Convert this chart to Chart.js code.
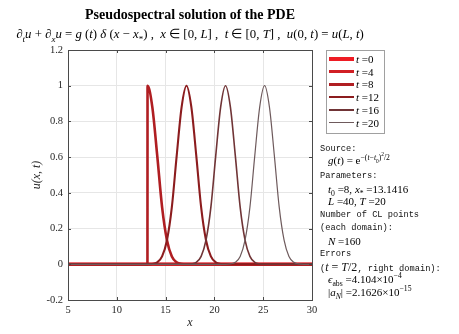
<!DOCTYPE html>
<html>
<head>
<meta charset="utf-8">
<script src="https://cdn.jsdelivr.net/npm/chart.js@4/dist/chart.umd.min.js"></script>
<style>
  body { margin: 0; background: #fff; }
  #wrap { position: relative; width: 459px; height: 334px; overflow: hidden; font-family: "Liberation Serif", serif; color: #000; }
  #chart { position: absolute; left: 0; top: 0; }
  .t { position: absolute; white-space: nowrap; line-height: 12px; }
  .c { left: 0; width: 380px; text-align: center; }
  .m { font-family: "Liberation Mono", monospace; font-size: 8.7px; color: #111; }
  .s { font-size: 11px; font-family: "Liberation Serif", serif; }
  sub, sup { font-size: 70%; line-height: 0; }
  #legend { position: absolute; left: 326px; top: 50px; width: 57px; height: 82px; border: 1px solid #a0a0a0; background: #fff; }
  .row { position: absolute; left: 2px; height: 12px; }
  .row .ln { position: absolute; left: 0; width: 25px; }
  .row .lb { position: absolute; left: 27px; top: 0; line-height: 12px; font-size: 11px; white-space: nowrap; }
</style>
</head>
<body>
<div id="wrap">
  <canvas id="chart" width="459" height="334"></canvas>

  <div class="t c" style="top:9px;font-size:14px;font-weight:bold;">Pseudospectral solution of the PDE</div>
  <div class="t c" style="top:28px;font-size:12.8px;">∂<sub><i>t</i></sub><i>u</i> + ∂<sub><i>x</i></sub><i>u</i> = <i>g</i> (<i>t</i>) <i>δ</i> (<i>x</i> − <i>x</i><sub>*</sub>) , &nbsp;<i>x</i> ∈ [0, <i>L</i>] , &nbsp;<i>t</i> ∈ [0, <i>T</i>] , &nbsp;<i>u</i>(0, <i>t</i>) = <i>u</i>(<i>L</i>, <i>t</i>)</div>

  <div id="legend"></div>

  <div class="t m" style="left:320px;top:143px;">Source:</div>
  <div class="t s" style="left:328px;top:154px;"><i>g</i>(<i>t</i>) = e<sup>−(<i>t</i>−<i>t</i><sub>0</sub>)<sup>2</sup>/2</sup></div>
  <div class="t m" style="left:320px;top:170px;">Parameters:</div>
  <div class="t s" style="left:328px;top:183px;"><i>t</i><sub>0</sub> =8, <i>x</i><sub>*</sub> =13.1416</div>
  <div class="t s" style="left:328px;top:195px;"><i>L</i> =40, <i>T</i> =20</div>
  <div class="t m" style="left:320px;top:209px;">Number of CL points</div>
  <div class="t m" style="left:320px;top:222px;">(each domain):</div>
  <div class="t s" style="left:328px;top:235px;"><i>N</i> =160</div>
  <div class="t m" style="left:320px;top:248px;">Errors</div>
  <div class="t m" style="left:320px;top:261px;">(<span class="s" style="font-size:12px;"><i>t</i> = <i>T</i>/2</span>, right domain):</div>
  <div class="t s" style="left:328px;top:273px;"><i>ϵ</i><sub>abs</sub> =4.104×10<sup>−4</sup></div>
  <div class="t s" style="left:328px;top:286px;">|<i>a</i><sub><i>N</i></sub>| =2.1626×10<sup>−15</sup></div>
</div>

<script>
// snapshot times and line styles
const tVals = [0, 4, 8, 12, 16, 20];
const lineColors = ['#ee1c24', '#d11f24', '#b01e22', '#8c1c1e', '#703436', '#6e5a5c'];
const lineWidths = [3.6, 3.2, 2.6, 2.1, 1.6, 1.2];

// u(x,t)
const xT0 = [5, 30];
const yT0 = [0, 0];
const xT4 = [5, 30];
const yT4 = [0, 0];
const xT8 = [5, 13.14, 13.15, 13.64, 14.14, 14.64, 15.14, 15.64, 16.14, 16.64, 17.14, 30];
const yT8 = [0, 0, 1, 0.88, 0.61, 0.32, 0.135, 0.044, 0.011, 0.002, 0, 0];
const xT12 = [5, 13.14, 13.64, 14.14, 14.64, 15.14, 15.64, 16.14, 16.64, 17.14, 17.64, 18.14, 18.64, 19.14, 19.64, 20.14, 20.64, 21.14, 30];
const yT12 = [0, 0, 0.002, 0.011, 0.044, 0.135, 0.32, 0.61, 0.88, 1, 0.88, 0.61, 0.32, 0.135, 0.044, 0.011, 0.002, 0, 0];
const xT16 = [5, 17.14, 17.64, 18.14, 18.64, 19.14, 19.64, 20.14, 20.64, 21.14, 21.64, 22.14, 22.64, 23.14, 23.64, 24.14, 24.64, 25.14, 30];
const yT16 = [0, 0, 0.002, 0.011, 0.044, 0.135, 0.32, 0.61, 0.88, 1, 0.88, 0.61, 0.32, 0.135, 0.044, 0.011, 0.002, 0, 0];
const xT20 = [5, 21.14, 21.64, 22.14, 22.64, 23.14, 23.64, 24.14, 24.64, 25.14, 25.64, 26.14, 26.64, 27.14, 27.64, 28.14, 28.64, 29.14, 30];
const yT20 = [0, 0, 0.002, 0.011, 0.044, 0.135, 0.32, 0.61, 0.88, 1, 0.88, 0.61, 0.32, 0.135, 0.044, 0.011, 0.002, 0, 0];

const xsAll = [xT0, xT4, xT8, xT12, xT16, xT20];
const ysAll = [yT0, yT4, yT8, yT12, yT16, yT20];

// axis ticks
const xTicks = [5, 10, 15, 20, 25, 30];
const yTicks = [-0.2, 0, 0.2, 0.4, 0.6, 0.8, 1, 1.2];
const yTickLabels = ['-0.2', '0', '0.2', '0.4', '0.6', '0.8', '1', '1.2'];

const serif = '"Liberation Serif", serif';

const datasets = tVals.map((t, i) => ({
  label: 't =' + t,
  data: xsAll[i].map((x, j) => ({ x: x, y: ysAll[i][j] })),
  borderColor: lineColors[i],
  borderWidth: lineWidths[i],
  pointRadius: 0,
  fill: false,
  cubicInterpolationMode: 'monotone',
  order: tVals.length - 1 - i  // later times drawn on top
}));

// box round the axes plus small inward ticks
const boxPlugin = {
  id: 'box',
  afterDatasetsDraw(chart) {
    const { ctx, chartArea: a, scales } = chart;
    ctx.save();
    ctx.strokeStyle = '#4a4a4a';
    ctx.lineWidth = 1;
    ctx.beginPath();
    xTicks.forEach(v => {
      const px = Math.round(scales.x.getPixelForValue(v)) + 0.5;
      ctx.moveTo(px, a.top); ctx.lineTo(px, a.top + 3);
      ctx.moveTo(px, a.bottom); ctx.lineTo(px, a.bottom - 3);
    });
    yTicks.forEach(v => {
      const py = Math.round(scales.y.getPixelForValue(v)) + 0.5;
      ctx.moveTo(a.left, py); ctx.lineTo(a.left + 3, py);
      ctx.moveTo(a.right, py); ctx.lineTo(a.right - 3, py);
    });
    ctx.stroke();
    ctx.strokeRect(Math.round(a.left) + 0.5, Math.round(a.top) + 0.5,
      Math.round(a.right - a.left), Math.round(a.bottom - a.top));
    ctx.restore();
  }
};

new Chart(document.getElementById('chart'), {
  type: 'line',
  data: { datasets: datasets },
  plugins: [boxPlugin],
  options: {
    responsive: false,
    animation: false,
    layout: { padding: { left: 0, top: 50, right: 147, bottom: 0 } },
    plugins: { legend: { display: false }, tooltip: { enabled: false } },
    scales: {
      x: {
        type: 'linear',
        min: 5, max: 30,
        afterBuildTicks: (s) => { s.ticks = xTicks.map(v => ({ value: v })); },
        afterFit: (s) => { s.height = 34; },
        grid: { color: '#e6e6e6', drawTicks: false },
        border: { display: false },
        ticks: { color: '#262626', padding: 4, font: { family: serif, size: 10.5 } },
        title: { display: true, text: 'x', color: '#262626', padding: { top: 0, bottom: 4 }, font: { family: serif, size: 12, style: 'italic' } }
      },
      y: {
        type: 'linear',
        min: -0.2, max: 1.2,
        afterBuildTicks: (s) => { s.ticks = yTicks.map(v => ({ value: v })); },
        afterFit: (s) => { s.width = 68; },
        grid: { color: '#e6e6e6', drawTicks: false },
        border: { display: false },
        ticks: {
          color: '#262626', padding: 5, font: { family: serif, size: 10.5 },
          callback: (v) => yTickLabels[yTicks.indexOf(v)]
        },
        title: { display: true, text: 'u(x, t)', color: '#262626', padding: { top: 30, bottom: 0 }, font: { family: serif, size: 12, style: 'italic' } }
      }
    }
  }
});

// legend built from the same series styles
const legend = document.getElementById('legend');
tVals.forEach((t, i) => {
  const row = document.createElement('div');
  row.className = 'row';
  row.style.top = (2 + i * 12.7) + 'px';
  const ln = document.createElement('div');
  ln.className = 'ln';
  ln.style.background = lineColors[i];
  ln.style.height = lineWidths[i] + 'px';
  ln.style.top = (6 - lineWidths[i] / 2) + 'px';
  const lb = document.createElement('div');
  lb.className = 'lb';
  lb.innerHTML = '<i>t</i> =' + t;
  row.appendChild(ln);
  row.appendChild(lb);
  legend.appendChild(row);
});
</script>
</body>
</html>
